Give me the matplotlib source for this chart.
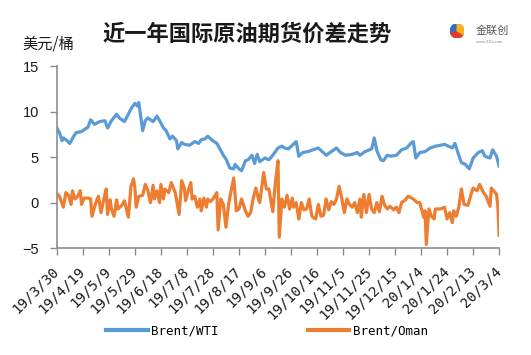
import numpy as np
import pandas as pd
import matplotlib
matplotlib.use("Agg")
import matplotlib.pyplot as plt
from matplotlib.patches import Wedge

BLUE = "#5b9bd5"; ORANGE = "#ed7d31"; AXIS = "#8c8c8c"; INK = "#1a1a1a"
plt.rcParams.update({
    "font.family": ["Liberation Sans", "Noto Sans CJK SC", "DejaVu Sans"],
    "axes.spines.top": False, "axes.spines.right": False,
})

START = pd.Timestamp("2019-03-30")
TICK_LABELS = ["19/3/30", "19/4/19", "19/5/9", "19/5/29", "19/6/18", "19/7/8",
               "19/7/28", "19/8/17", "19/9/6", "19/9/26", "19/10/16", "19/11/5",
               "19/11/25", "19/12/15", "20/1/4", "20/1/24", "20/2/13", "20/3/4"]

# Brent/WTI spread, days since 2019-03-30
wti_day = [0, 2, 4, 5, 7, 10, 13, 15, 19, 22, 24, 26, 29, 33, 37, 39, 42, 46, 48, 52,
           55, 57, 60, 62, 63, 66, 68, 70, 74, 77, 79, 82, 84, 87, 89, 92, 93, 96, 98, 102,
           106, 109, 111, 114, 116, 119, 123, 125, 128, 130, 133, 136, 137, 140, 142, 145,
           147, 150, 152, 154, 156, 160, 163, 166, 170, 173, 175, 178, 181, 184, 186, 189,
           193, 197, 201, 204, 207, 211, 215, 218, 222, 227, 231, 233, 237, 242, 244, 246,
           249, 251, 254, 257, 261, 265, 269, 272, 274, 276, 279, 283, 287, 291, 295, 298,
           301, 304, 306, 309, 311, 314, 317, 320, 324, 327, 329, 333, 335, 338, 340]
wti_val = [8.2, 7.7, 6.8, 7.1, 6.9, 6.5, 7.3, 7.7, 7.8, 8.1, 8.3, 9.1, 8.6, 8.9, 9.0, 8.2,
           9.0, 9.7, 9.3, 8.9, 9.7, 10.3, 10.9, 10.6, 11.0, 7.9, 9.0, 9.3, 8.9, 9.5, 9.0, 8.2,
           7.9, 7.0, 7.3, 6.8, 5.9, 6.6, 6.4, 6.3, 6.7, 6.5, 6.9, 7.0, 7.3, 6.9, 6.5, 6.0,
           5.2, 4.8, 3.8, 3.7, 4.2, 3.7, 3.5, 4.6, 4.7, 5.2, 4.3, 5.3, 4.5, 4.9, 4.7, 5.2,
           6.0, 6.2, 6.0, 5.9, 6.3, 6.7, 5.1, 5.5, 5.6, 5.8, 6.0, 5.6, 5.2, 5.6, 6.0, 5.5,
           5.2, 5.3, 5.5, 5.2, 5.6, 5.9, 7.1, 5.7, 4.7, 4.6, 5.2, 5.1, 5.2, 5.8, 6.0, 6.5,
           6.7, 4.9, 5.5, 5.6, 6.0, 6.2, 6.3, 6.4, 6.2, 6.0, 6.5, 5.2, 4.4, 4.2, 3.7, 4.9,
           5.5, 5.7, 5.1, 4.9, 5.8, 5.1, 4.0]

# Brent/Oman spread, days since 2019-03-30
oman_day = [0, 2, 5, 7, 9, 11, 12, 14, 16, 18, 19, 21, 24, 26, 27, 30, 32, 34, 36, 38,
            39, 41, 42, 44, 46, 47, 50, 52, 55, 57, 59, 60, 61, 63, 66, 68, 70, 72, 74, 75,
            77, 79, 80, 82, 83, 86, 88, 91, 94, 96, 98, 99, 101, 103, 104, 106, 108, 110,
            111, 113, 115, 116, 118, 120, 123, 124, 126, 128, 130, 132, 134, 136, 138, 140,
            142, 145, 147, 149, 151, 153, 155, 156, 159, 161, 163, 166, 168, 170, 171, 173,
            175, 177, 179, 181, 182, 184, 186, 188, 190, 192, 194, 196, 199, 201, 203, 205,
            207, 209, 211, 213, 215, 217, 219, 221, 223, 225, 227, 229, 231, 233, 234, 236,
            238, 240, 242, 244, 246, 248, 250, 252, 254, 256, 259, 261, 263, 265, 268, 270,
            274, 277, 279, 282, 283, 284, 286, 288, 290, 291, 295, 298, 300, 302, 304, 305,
            307, 309, 311, 313, 316, 318, 320, 323, 325, 328, 330, 333, 334, 337, 338, 339, 340]
oman_val = [1.0, 0.7, -0.5, 1.1, 0.8, -0.2, 1.3, 0.4, 0.7, 1.3, -0.2, 0.5, 0.5, 0.4, -1.5,
            0.0, 0.7, -1.1, 0.3, 1.5, -1.3, 0.3, -0.7, -1.5, 0.3, -0.7, -0.3, 0.2, -1.6, 1.8,
            2.6, 1.6, -0.5, 0.7, 0.8, 2.0, 1.3, 0.0, 1.9, 0.4, 1.3, 0.0, 2.0, 0.4, 1.5, 1.1,
            2.2, 1.1, -1.3, 2.4, 1.6, 0.2, 1.3, 2.2, 0.4, 0.7, -0.5, 0.4, -0.9, 0.5, -0.5, 0.4,
            0.1, 0.4, 1.1, -3.0, 0.4, -0.2, -2.7, -0.2, 1.3, 2.7, -0.9, -0.7, 0.4, -0.9, -1.5,
            -1.1, 0.5, 1.6, 0.4, 0.0, 3.3, 1.5, 1.5, -1.0, 2.2, 4.6, -3.8, 0.4, -0.5, 0.8,
            -0.7, 0.5, -0.5, 0.0, -1.8, 0.0, -0.8, -0.7, 0.4, -1.5, -1.8, -0.2, -1.5, -1.4,
            0.4, -0.8, 0.1, -0.2, 0.4, 1.8, 0.5, -1.1, 0.4, -0.2, -0.5, 0.0, -1.1, 0.4, -1.6,
            0.9, -1.1, 0.9, -0.7, -1.1, 0.0, -1.0, 0.7, -0.3, -0.7, -0.4, -0.8, -0.5, -1.1,
            0.0, 0.3, 0.7, 0.4, 0.0, 0.0, -1.6, -0.9, -4.6, -0.7, -1.5, -1.8, -0.7, -0.7,
            -0.5, -1.8, -1.1, -2.2, -0.9, -1.5, -0.5, 1.5, -0.2, -0.3, 0.7, 1.6, 1.3, 2.0,
            1.1, 0.7, -0.4, 1.6, 1.1, 0.9, -0.4, -3.6]

fig = plt.figure(figsize=(5.31, 3.55), dpi=100)
ax = fig.add_axes([0.107, 0.301, 0.833, 0.513])
wti_dates = START + pd.to_timedelta(wti_day, unit="D")
oman_dates = START + pd.to_timedelta(oman_day, unit="D")
ax.plot(wti_dates, wti_val, color=BLUE, lw=2.3, solid_joinstyle="round", label="Brent/WTI")
ax.plot(oman_dates, oman_val, color=ORANGE, lw=2.3, solid_joinstyle="round", label="Brent/Oman")

ticks = [START + pd.Timedelta(days=20 * i) for i in range(len(TICK_LABELS))]
ax.set_xlim(ticks[0], ticks[-1])
ax.set_xticks(ticks)
ax.set_xticklabels(TICK_LABELS, rotation=45, ha="right", va="center",
                   rotation_mode="anchor", family="DejaVu Sans Mono",
                   fontsize=10.2, color=INK)
ax.set_ylim(-5, 15)
ax.set_yticks([-5, 0, 5, 10, 15])
ax.set_yticklabels(["\u22125", "0", "5", "10", "15"], fontsize=10.5, color=INK)
for s in ("left", "bottom"):
    ax.spines[s].set_color(AXIS); ax.spines[s].set_linewidth(1.2)
ax.tick_params(axis="both", direction="out", length=5, width=1, color=AXIS)
ax.tick_params(axis="x", pad=10)
ax.tick_params(axis="y", pad=8)

fig.text(0.465, 0.903, "近一年国际原油期货价差走势", fontsize=16, weight="bold",
         family="Noto Sans CJK SC", ha="center", va="center", color=INK)
fig.text(0.042, 0.877, "美元/桶", fontsize=11, family="Noto Sans CJK SC",
         ha="left", va="center", color=INK)

# logo
lax = fig.add_axes([0.848, 0.893, 0.026, 0.04]); lax.axis("off")
lax.set_xlim(-1, 1); lax.set_ylim(-1, 1)
lax.add_patch(Wedge((0, 0), 1, 90, 200, color="#2a6fc9"))
lax.add_patch(Wedge((0, 0), 1, 200, 330, color="#e03b2f"))
lax.add_patch(Wedge((0, 0), 1, 330, 90, color="#f2b31b"))
fig.text(0.895, 0.913, "金联创", fontsize=8, family="Noto Sans CJK SC",
         ha="left", va="center", color="#555555")
fig.text(0.897, 0.883, "www.315i.com", fontsize=3, ha="left", va="center", color="#888888")

leg = ax.legend(loc="upper center", bbox_to_anchor=(0.475, -0.355), ncol=2, frameon=False,
                handlelength=3.3, columnspacing=7.2, handletextpad=0.25,
                prop={"family": "DejaVu Sans Mono", "size": 9})
for h in leg.get_lines():
    h.set_linewidth(3)

fig.savefig("out.png", dpi=100, facecolor="white")
